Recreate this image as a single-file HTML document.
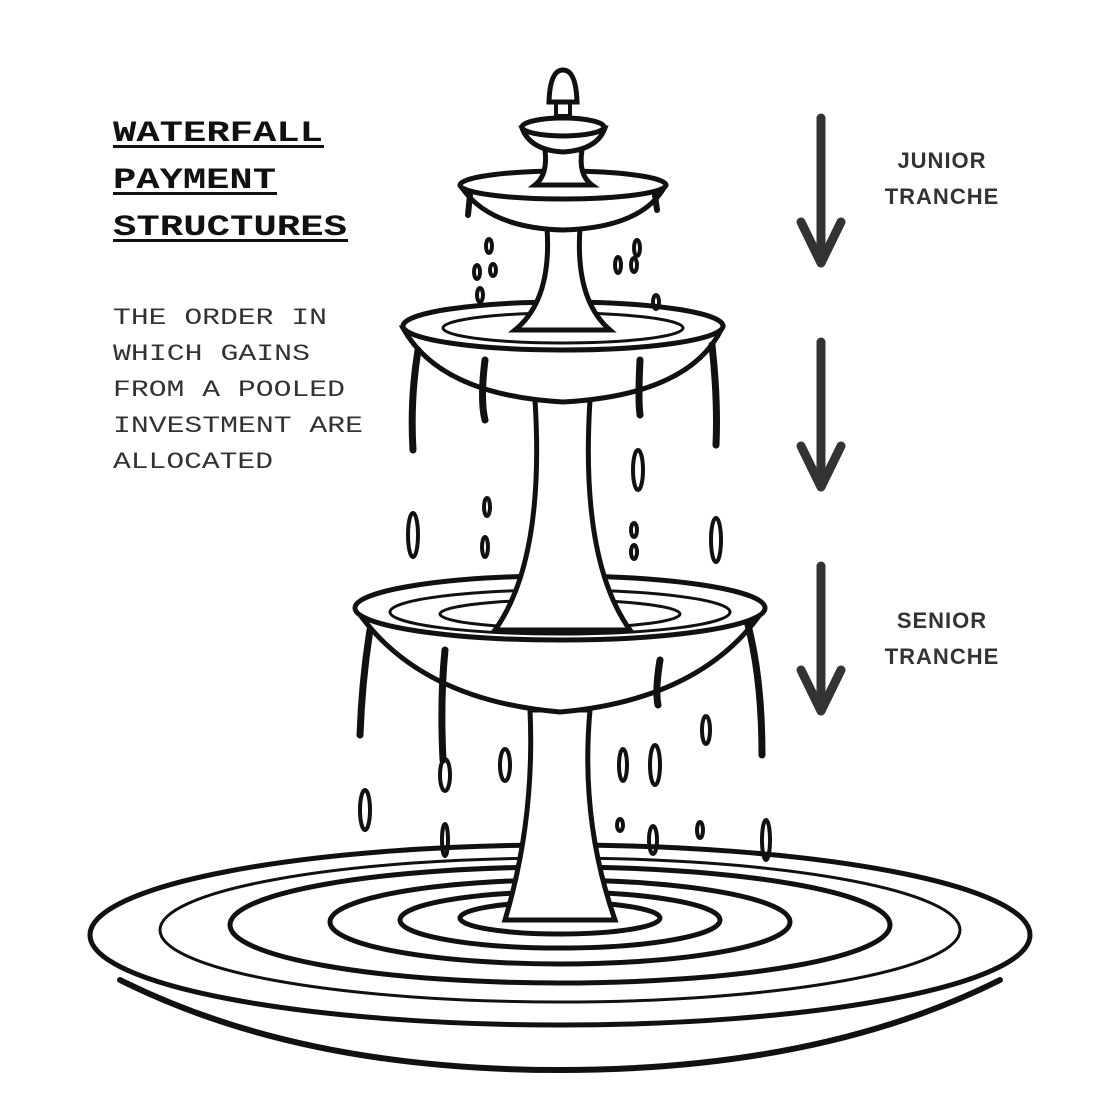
<!DOCTYPE html>
<html><head><meta charset="utf-8"><style>
html,body{margin:0;padding:0;background:#fff;}
svg{display:block;}
.t{font-family:"Liberation Mono",monospace;font-weight:bold;font-size:30px;fill:#111;}
.b{font-family:"Liberation Mono",monospace;font-size:23px;fill:#333;}
.l{font-family:"Liberation Sans",sans-serif;font-weight:bold;font-size:22px;fill:#333;letter-spacing:1px;}
</style></head><body>
<svg width="1120" height="1120" viewBox="0 0 1120 1120" xmlns="http://www.w3.org/2000/svg">
<rect width="1120" height="1120" fill="#fff"/>
<!-- title -->
<text class="t" x="113" y="141" textLength="210" lengthAdjust="spacingAndGlyphs">WATERFALL</text>
<rect x="113" y="145" width="211" height="3" fill="#111"/>
<text class="t" x="113" y="188" textLength="163" lengthAdjust="spacingAndGlyphs">PAYMENT</text>
<rect x="113" y="192" width="164" height="3" fill="#111"/>
<text class="t" x="113" y="235" textLength="234" lengthAdjust="spacingAndGlyphs">STRUCTURES</text>
<rect x="113" y="239" width="235" height="3" fill="#111"/>
<text class="b" x="113" y="324" textLength="214" lengthAdjust="spacingAndGlyphs">THE ORDER IN</text>
<text class="b" x="113" y="360" textLength="197" lengthAdjust="spacingAndGlyphs">WHICH GAINS</text>
<text class="b" x="113" y="396" textLength="232" lengthAdjust="spacingAndGlyphs">FROM A POOLED</text>
<text class="b" x="113" y="432" textLength="250" lengthAdjust="spacingAndGlyphs">INVESTMENT ARE</text>
<text class="b" x="113" y="468" textLength="160" lengthAdjust="spacingAndGlyphs">ALLOCATED</text>
<!-- arrows -->
<g stroke="#333" stroke-width="9" stroke-linecap="round" fill="none" stroke-linejoin="round">
<path d="M821 118 L821 263 M801 222 L821 263 L841 222"/>
<path d="M821 342 L821 487 M801 446 L821 487 L841 446"/>
<path d="M821 566 L821 711 M801 670 L821 711 L841 670"/>
</g>
<text class="l" x="942" y="168" text-anchor="middle">JUNIOR</text>
<text class="l" x="942" y="204" text-anchor="middle">TRANCHE</text>
<text class="l" x="942" y="628" text-anchor="middle">SENIOR</text>
<text class="l" x="942" y="664" text-anchor="middle">TRANCHE</text>
<!-- fountain -->
<g stroke="#111" stroke-width="5" fill="#fff" stroke-linecap="round">
<!-- pool -->
<ellipse cx="560" cy="935" rx="470" ry="90" fill="none"/>
<ellipse cx="560" cy="930" rx="400" ry="72" fill="none" stroke-width="3"/>
<ellipse cx="560" cy="925" rx="330" ry="58" fill="none"/>
<ellipse cx="560" cy="922" rx="230" ry="42" fill="none"/>
<ellipse cx="560" cy="920" rx="160" ry="28" fill="none"/>
<ellipse cx="560" cy="918" rx="100" ry="16" fill="none"/>
<path d="M120 980 Q300 1070 560 1070 Q820 1070 1000 980" fill="none" stroke-width="6"/>
<!-- lower stem -->
<path d="M530 710 Q535 820 505 920 L615 920 Q580 820 590 710 Z"/>
<!-- lower basin -->
<path d="M358 612 Q420 700 560 712 Q700 700 762 612 Z"/>
<ellipse cx="560" cy="608" rx="205" ry="32"/>
<ellipse cx="560" cy="612" rx="170" ry="22" fill="none" stroke-width="3"/>
<ellipse cx="560" cy="614" rx="120" ry="14" fill="none" stroke-width="3"/>
<path d="M370 630 Q362 680 360 735 M445 650 Q440 700 443 760 M660 660 Q655 690 658 705 M748 625 Q762 680 762 755" fill="none" stroke-width="7"/>
<!-- middle stem -->
<path d="M535 400 Q545 560 495 630 L630 630 Q580 560 590 400 Z"/>
<!-- middle basin -->
<path d="M403 328 Q440 395 563 402 Q690 395 722 328 Z"/>
<ellipse cx="563" cy="326" rx="160" ry="24"/>
<ellipse cx="563" cy="328" rx="120" ry="15" fill="none" stroke-width="3"/>
<path d="M418 350 Q410 400 413 450 M485 360 Q480 400 485 420 M640 360 Q638 400 640 415 M712 345 Q718 400 716 445" fill="none" stroke-width="7"/>
<!-- top stem -->
<path d="M547 228 Q552 300 515 330 L610 330 Q575 300 580 228 Z"/>
<!-- top bowl -->
<path d="M462 188 Q490 228 563 230 Q640 228 664 188 Z"/>
<ellipse cx="563" cy="185" rx="103" ry="14"/>
<path d="M470 195 L468 215 M655 195 L657 210" fill="none" stroke-width="6"/>
<!-- cup and finial -->
<path d="M545 150 Q548 175 535 185 L592 185 Q578 175 582 150 Z"/>
<path d="M522 128 Q530 150 563 152 Q597 150 605 128 Z"/>
<ellipse cx="563" cy="127" rx="41" ry="9"/>
<rect x="556" y="100" width="14" height="16" stroke-width="4"/>
<path d="M549 102 Q550 70 563 70 Q576 70 577 102 Z"/>
</g>
<!-- drops -->
<g fill="none" stroke="#111" stroke-width="4">
<ellipse cx="489" cy="246" rx="3" ry="7"/><ellipse cx="477" cy="272" rx="3" ry="7"/><ellipse cx="493" cy="270" rx="3" ry="6"/><ellipse cx="480" cy="295" rx="3" ry="7"/>
<ellipse cx="637" cy="248" rx="3" ry="8"/><ellipse cx="618" cy="265" rx="3" ry="8"/><ellipse cx="634" cy="265" rx="3" ry="7"/><ellipse cx="656" cy="302" rx="3" ry="7"/>
<ellipse cx="413" cy="535" rx="5" ry="22"/><ellipse cx="487" cy="507" rx="3" ry="9"/><ellipse cx="485" cy="547" rx="3" ry="10"/>
<ellipse cx="638" cy="470" rx="5" ry="20"/><ellipse cx="634" cy="530" rx="3" ry="7"/><ellipse cx="634" cy="552" rx="3" ry="7"/><ellipse cx="716" cy="540" rx="5" ry="22"/>
<ellipse cx="365" cy="810" rx="5" ry="20"/><ellipse cx="445" cy="775" rx="5" ry="16"/><ellipse cx="445" cy="840" rx="3" ry="16"/><ellipse cx="505" cy="765" rx="5" ry="16"/>
<ellipse cx="623" cy="765" rx="4" ry="16"/><ellipse cx="655" cy="765" rx="5" ry="20"/><ellipse cx="653" cy="840" rx="4" ry="14"/><ellipse cx="700" cy="830" rx="3" ry="8"/>
<ellipse cx="706" cy="730" rx="4" ry="14"/><ellipse cx="766" cy="840" rx="4" ry="20"/><ellipse cx="620" cy="825" rx="3" ry="6"/>
</g>
</svg>
</body></html>
